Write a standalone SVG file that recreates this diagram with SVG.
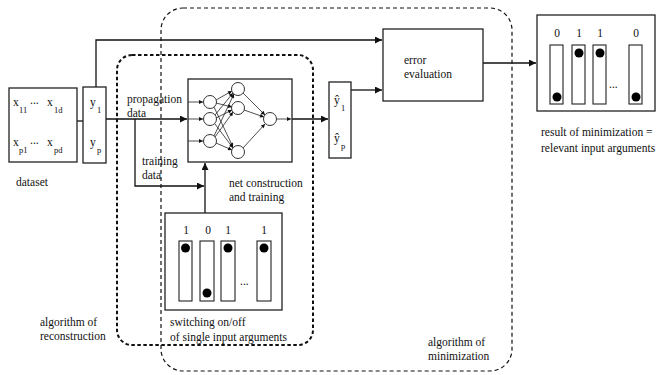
<svg xmlns="http://www.w3.org/2000/svg" width="656" height="375" viewBox="0 0 656 375">
<style>
.t{font-family:"Liberation Serif","Times New Roman",serif;font-size:11.5px;fill:#111}
.s{font-family:"Liberation Serif","Times New Roman",serif;font-size:8.5px;fill:#111}
.box{fill:#fff;stroke:#222;stroke-width:1.3}
.ln{fill:none;stroke:#111;stroke-width:1.3}
.thin{fill:none;stroke:#222;stroke-width:0.8}
.neu{fill:#fff;stroke:#333;stroke-width:1}
.col{fill:#fff;stroke:#222;stroke-width:1.1}
.dot{fill:#000}
.dash1{fill:none;stroke:#111;stroke-width:2;stroke-dasharray:3.5,2.5}
.dash2{fill:none;stroke:#111;stroke-width:1.2;stroke-dasharray:4,3}
</style>
<defs>
<marker id="a" viewBox="0 0 10 10" refX="10" refY="5" markerWidth="9" markerHeight="7" markerUnits="userSpaceOnUse" orient="auto"><path d="M0,0L10,5L0,10z" fill="#111"/></marker>
<marker id="b" viewBox="0 0 10 10" refX="10" refY="5" markerWidth="5" markerHeight="4" markerUnits="userSpaceOnUse" orient="auto"><path d="M0,0L10,5L0,10z" fill="#111"/></marker>
</defs>

<g id="regions">
<rect class="dash2" x="161" y="8" width="351" height="363" rx="22" ry="22"/>
<rect class="dash1" x="117" y="55" width="196" height="290" rx="15" ry="15"/>
</g>

<g id="connectors">
<line class="ln" x1="77" y1="121" x2="83" y2="121"/>
<polyline class="ln" points="96,87 96,40 382,40" marker-end="url(#a)"/>
<line class="ln" x1="106" y1="119" x2="187" y2="119" marker-end="url(#a)"/>
<polyline class="ln" points="135,119 135,186 204,186" marker-end="url(#a)"/>
<line class="ln" x1="205" y1="213" x2="205" y2="163" marker-end="url(#a)"/>
<line class="ln" x1="277" y1="119" x2="328" y2="119" marker-end="url(#a)"/>
<line class="ln" x1="351" y1="90" x2="382" y2="90" marker-end="url(#a)"/>
<line class="ln" x1="483" y1="63" x2="536" y2="63" marker-end="url(#a)"/>
</g>

<g id="dataset">
<rect class="box" x="9" y="88" width="68" height="74"/>
<text class="t" x="13" y="106">x<tspan class="s" x="19" y="113">11</tspan></text>
<text class="t" x="30" y="104">...</text>
<text class="t" x="47" y="106">x<tspan class="s" x="54" y="113">1d</tspan></text>
<text class="t" x="13" y="146">x<tspan class="s" x="19" y="153">p1</tspan></text>
<text class="t" x="30" y="144">...</text>
<text class="t" x="47" y="146">x<tspan class="s" x="54" y="153">pd</tspan></text>
<text class="t" x="16" y="186">dataset</text>
</g>

<g id="targets">
<rect class="box" x="83" y="87" width="23" height="76"/>
<text class="t" x="90" y="106">y<tspan class="s" x="97" y="113">1</tspan></text>
<text class="t" x="90" y="146">y<tspan class="s" x="97" y="153">p</tspan></text>
</g>

<g id="labels-data">
<text class="t" x="127" y="103">propagation</text>
<text class="t" x="127" y="117">data</text>
<text class="t" x="142" y="165">training</text>
<text class="t" x="142" y="179">data</text>
</g>

<g id="network">
<rect class="box" x="188" y="79" width="104" height="83"/>
<g class="thin">
<line x1="188" y1="102" x2="203" y2="102" marker-end="url(#b)"/>
<line x1="188" y1="119" x2="203" y2="119" marker-end="url(#b)"/>
<line x1="188" y1="141" x2="203" y2="141" marker-end="url(#b)"/>
<line x1="216" y1="100" x2="232" y2="91" marker-end="url(#b)"/>
<line x1="216" y1="103" x2="232" y2="107" marker-end="url(#b)"/>
<line x1="214" y1="107" x2="233" y2="147" marker-end="url(#b)"/>
<line x1="215" y1="115" x2="233" y2="93" marker-end="url(#b)"/>
<line x1="216" y1="118" x2="232" y2="110" marker-end="url(#b)"/>
<line x1="215" y1="124" x2="233" y2="148" marker-end="url(#b)"/>
<line x1="214" y1="136" x2="234" y2="94" marker-end="url(#b)"/>
<line x1="215" y1="137" x2="233" y2="112" marker-end="url(#b)"/>
<line x1="216" y1="143" x2="232" y2="150" marker-end="url(#b)"/>
<line x1="243" y1="93" x2="265" y2="115" marker-end="url(#b)"/>
<line x1="244" y1="110" x2="264" y2="117" marker-end="url(#b)"/>
<line x1="243" y1="148" x2="265" y2="124" marker-end="url(#b)"/>
<line x1="277" y1="119" x2="291" y2="119" marker-end="url(#b)"/>
</g>
<circle class="neu" cx="210" cy="102" r="6.5"/>
<circle class="neu" cx="210" cy="119" r="6.5"/>
<circle class="neu" cx="210" cy="141" r="6.5"/>
<circle class="neu" cx="238" cy="89" r="6.5"/>
<circle class="neu" cx="238" cy="108" r="6.5"/>
<circle class="neu" cx="238" cy="152" r="6.5"/>
<circle class="neu" cx="270" cy="119" r="6.5"/>
<text class="t" x="229" y="187">net construction</text>
<text class="t" x="229" y="201">and training</text>
</g>

<g id="predictions">
<rect class="box" x="329" y="82" width="22" height="76"/>
<text class="t" x="334" y="104">ŷ<tspan class="s" x="341" y="111">1</tspan></text>
<text class="t" x="334" y="142">ŷ<tspan class="s" x="341" y="149">p</tspan></text>
</g>

<g id="error">
<rect class="box" x="383" y="29" width="100" height="72"/>
<text class="t" x="404" y="64">error</text>
<text class="t" x="404" y="78">evaluation</text>
</g>

<g id="result">
<rect class="box" x="537" y="15" width="118" height="96"/>
<text class="t" x="557" y="37" text-anchor="middle">0</text>
<text class="t" x="579" y="37" text-anchor="middle">1</text>
<text class="t" x="600" y="37" text-anchor="middle">1</text>
<text class="t" x="636" y="37" text-anchor="middle">0</text>
<rect class="col" x="550" y="45" width="13" height="59"/>
<rect class="col" x="572" y="45" width="13" height="59"/>
<rect class="col" x="593" y="45" width="13" height="59"/>
<rect class="col" x="629" y="45" width="13" height="59"/>
<circle class="dot" cx="557" cy="97" r="4.5"/>
<circle class="dot" cx="579" cy="53" r="4.5"/>
<circle class="dot" cx="600" cy="53" r="4.5"/>
<circle class="dot" cx="636" cy="97" r="4.5"/>
<text class="t" x="609" y="88">...</text>
<text class="t" x="541" y="136">result of minimization =</text>
<text class="t" x="541" y="152">relevant input arguments</text>
</g>

<g id="switches">
<rect class="box" x="165" y="213" width="117" height="97"/>
<text class="t" x="186" y="234" text-anchor="middle">1</text>
<text class="t" x="208" y="234" text-anchor="middle">0</text>
<text class="t" x="228" y="234" text-anchor="middle">1</text>
<text class="t" x="264" y="234" text-anchor="middle">1</text>
<rect class="col" x="179" y="241" width="13" height="60"/>
<rect class="col" x="200" y="241" width="14" height="60"/>
<rect class="col" x="221" y="241" width="14" height="60"/>
<rect class="col" x="257" y="241" width="14" height="60"/>
<circle class="dot" cx="185.5" cy="248" r="4.5"/>
<circle class="dot" cx="207" cy="293" r="4.5"/>
<circle class="dot" cx="228" cy="248" r="4.5"/>
<circle class="dot" cx="264" cy="248" r="4.5"/>
<text class="t" x="240" y="285">...</text>
<text class="t" x="170" y="326">switching on/off</text>
<text class="t" x="170" y="341">of single input arguments</text>
</g>

<g id="region-labels">
<text class="t" x="40" y="326">algorithm of</text>
<text class="t" x="40" y="340">reconstruction</text>
<text class="t" x="428" y="346">algorithm of</text>
<text class="t" x="428" y="360">minimization</text>
</g>
</svg>
